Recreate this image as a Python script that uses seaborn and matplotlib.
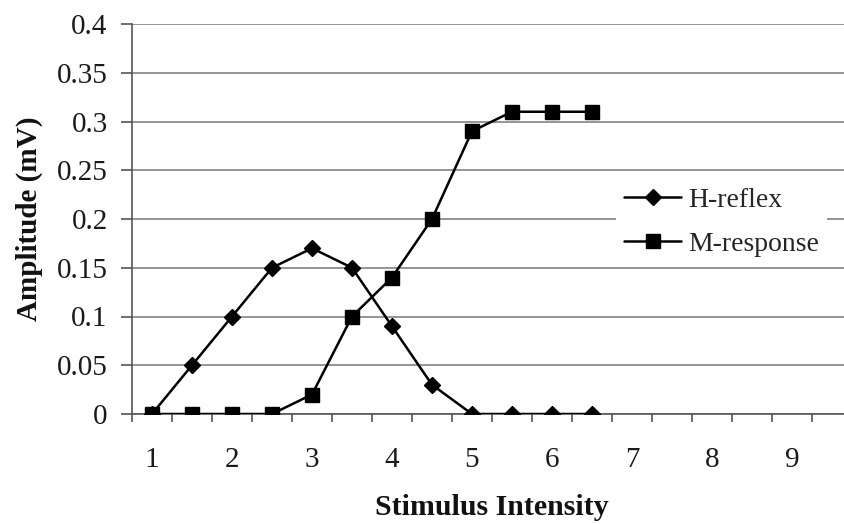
import matplotlib
matplotlib.use("Agg")
import matplotlib.pyplot as plt
import seaborn as sns
import pandas as pd
import numpy as np
from matplotlib.ticker import FixedLocator

stimulus = [1, 1.5, 2, 2.5, 3, 3.5, 4, 4.5, 5, 5.5, 6, 6.5]
h_reflex = [0, 0.05, 0.10, 0.15, 0.17, 0.15, 0.09, 0.03, 0, 0, 0, 0]
m_response = [0, 0, 0, 0, 0.02, 0.10, 0.14, 0.20, 0.29, 0.31, 0.31, 0.31]
series_names = ["H-reflex", "M-response"]
x_tick_labels = ["1", "2", "3", "4", "5", "6", "7", "8", "9"]
y_ticks = [0, 0.05, 0.1, 0.15, 0.2, 0.25, 0.3, 0.35, 0.4]
y_tick_labels = ["0", "0.05", "0.1", "0.15", "0.2", "0.25", "0.3", "0.35", "0.4"]

df = pd.concat([
    pd.DataFrame({"x": stimulus, "y": h_reflex, "series": series_names[0]}),
    pd.DataFrame({"x": stimulus, "y": m_response, "series": series_names[1]}),
])

sns.set_theme(style="white")
plt.rcParams["font.family"] = ["Liberation Serif", "DejaVu Serif"]

W, H = 845, 524
fig = plt.figure(figsize=(W / 100, H / 100), dpi=100)
left, right, top, bottom = 132, 852, 24, 414
ax = fig.add_axes([left / W, (H - bottom) / H, (right - left) / W, (bottom - top) / H])

sns.lineplot(data=df, x="x", y="y", hue="series", style="series",
             palette=["black", "black"], markers={"H-reflex": "D", "M-response": "s"},
             dashes=False, linewidth=1.8, ax=ax, zorder=5)
for line in ax.get_lines():
    line.set_markeredgecolor("black")
    line.set_markeredgewidth(1.0)
    if line.get_marker() == "D":
        line.set_markersize(8)
    elif line.get_marker() == "s":
        line.set_markersize(10)

ax.set_xlim(0.75, 9.75)
ax.set_ylim(0, 0.4)
ax.set_yticks(y_ticks)
ax.set_yticklabels(y_tick_labels)
ax.set_xticks(np.arange(1, 10))
ax.set_xticklabels(x_tick_labels)
ax.xaxis.set_minor_locator(FixedLocator(np.arange(0.75, 9.76, 0.5)))
ax.tick_params(axis="x", which="major", length=0, pad=24, labelsize=21, colors="#1a1a1a")
ax.tick_params(axis="x", which="minor", length=6, width=1.2, color="#555555", direction="out", bottom=True)
ax.tick_params(axis="y", which="major", length=8, width=1.2, color="#555555", direction="out",
               left=True, pad=9.5, labelsize=21, labelcolor="#1a1a1a")

ax.yaxis.grid(True, color="#8c8c8c", linewidth=1.3)
ax.xaxis.grid(False)
ax.set_axisbelow(True)
for s in ["top", "right"]:
    ax.spines[s].set_visible(False)
for s in ["left", "bottom"]:
    ax.spines[s].set_color("#555555")
    ax.spines[s].set_linewidth(1.2)

ax.set_xlabel("Stimulus Intensity", fontsize=21.5, fontweight="bold", labelpad=15, color="#111111")
ax.set_ylabel("Amplitude (mV)", fontsize=21, fontweight="bold", labelpad=10, color="#111111")

handles, labels = ax.get_legend_handles_labels()
leg = ax.legend(handles, labels, loc="upper left", bbox_to_anchor=(616 / W, (H - 179) / H),
                bbox_transform=fig.transFigure, frameon=True, fancybox=False,
                facecolor="white", edgecolor="white", framealpha=1, fontsize=20,
                handlelength=2.05, handletextpad=0.25, borderpad=0.3, labelspacing=0.68,
                borderaxespad=0)
leg.get_frame().set_linewidth(0)
for lh in leg.get_lines():
    lh.set_markeredgecolor("black")
    lh.set_linewidth(1.8)
    if lh.get_marker() == "D":
        lh.set_markersize(8)
    elif lh.get_marker() == "s":
        lh.set_markersize(10.5)

fig.savefig("out.png", dpi=100)
